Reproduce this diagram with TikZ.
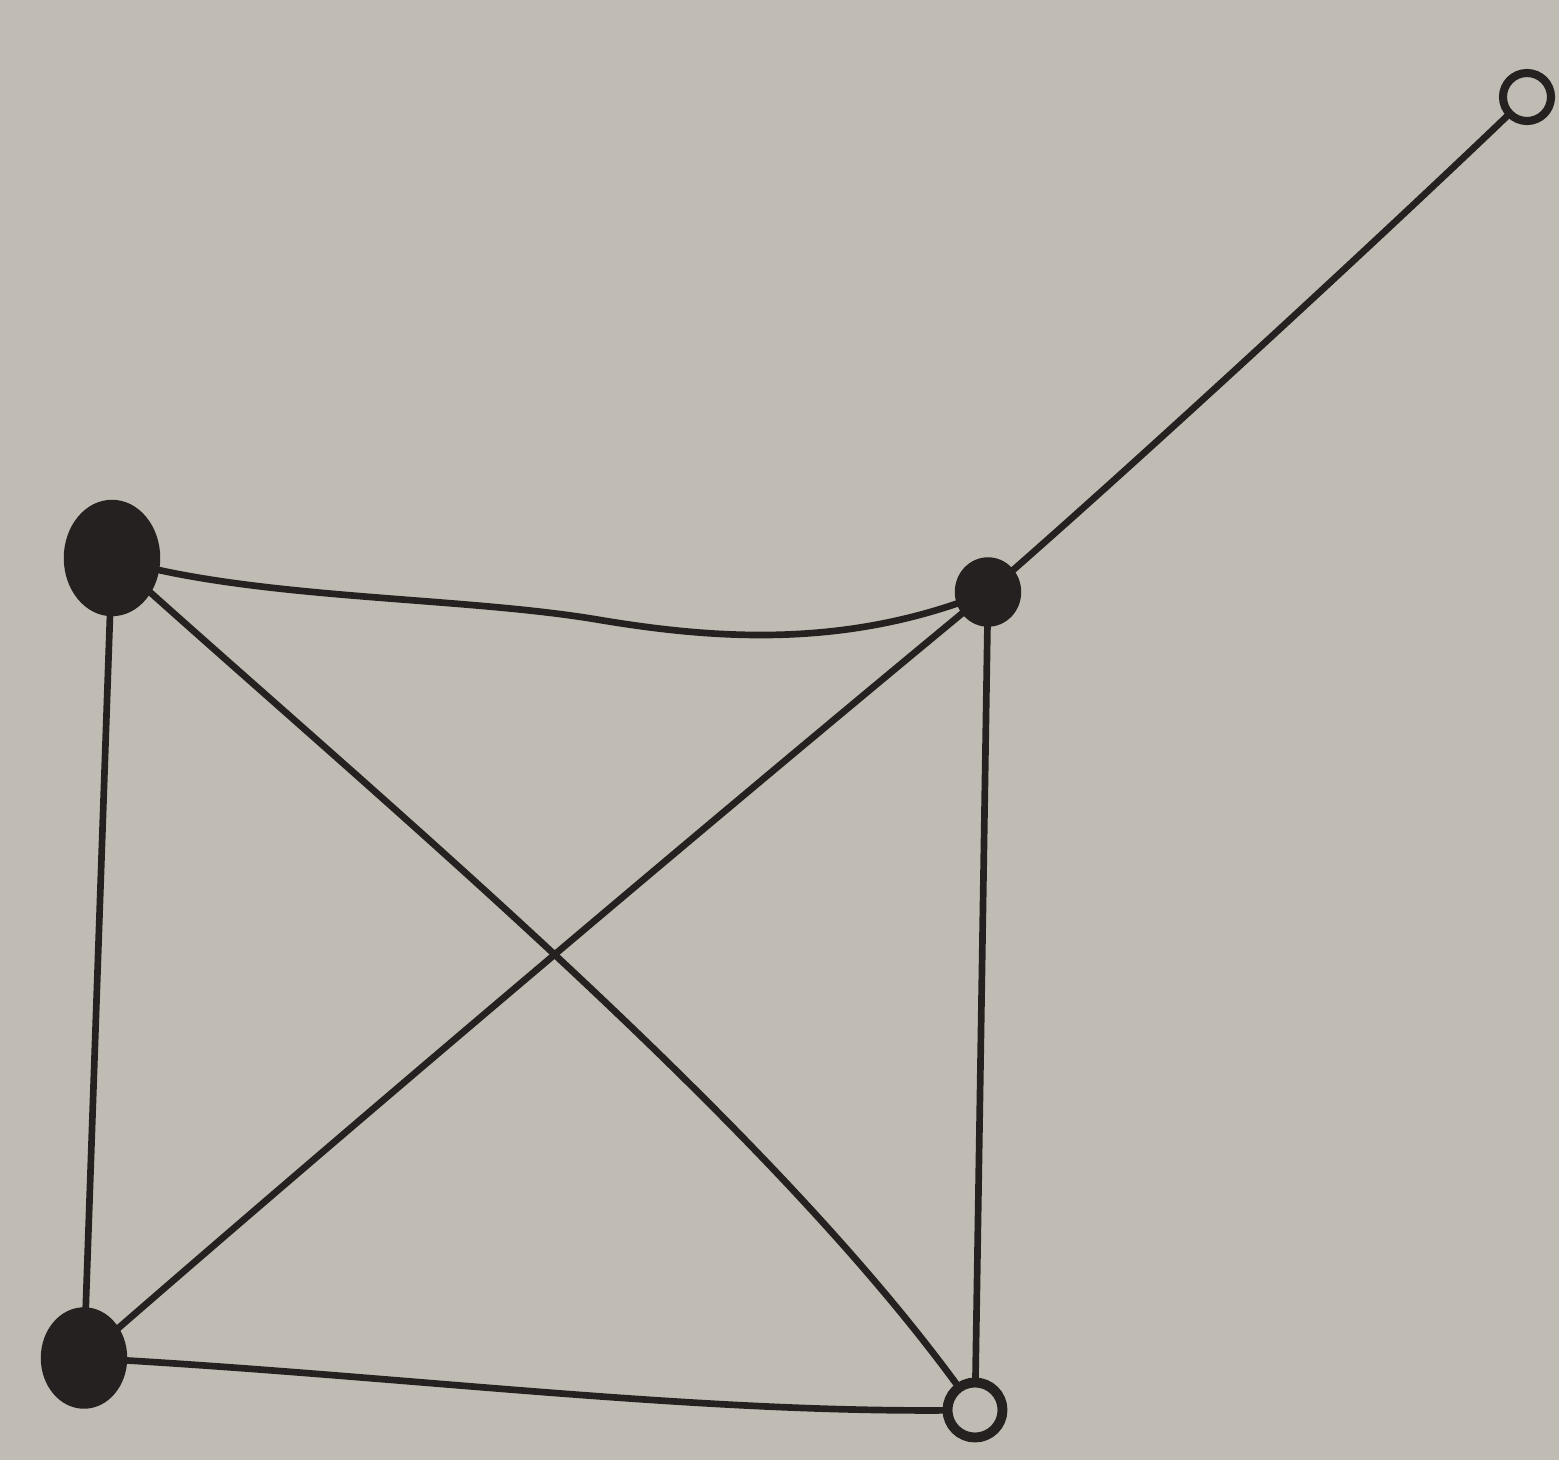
\documentclass[tikz,border=0pt]{standalone}
\usetikzlibrary{shapes.geometric}
\begin{document}
\begin{tikzpicture}[x=0.01cm,y=-0.01cm,
  ink/.style={draw=inkc,line width=1.9pt,line cap=round},
  bigdot/.style={ellipse,fill=inkc,draw=inkc,inner sep=0pt},
  opendot/.style={circle,draw=inkc,inner sep=0pt,fill=paper}]
\definecolor{paper}{RGB}{192,188,179}
\definecolor{inkc}{RGB}{38,33,33}
\fill[paper] (0,0) rectangle (1559,1460);
\useasboundingbox (0,0) rectangle (1559,1460);
\coordinate (a) at (112,558);
\coordinate (b) at (988,592);
\coordinate (c) at (84,1358);
\coordinate (d) at (975,1410);
\coordinate (e) at (1527,97);
% edges
\draw[ink] (a) .. controls (250,600) and (460,596) .. (600,620)
              .. controls (720,640) and (850,648) .. (b);
\draw[ink] (a) -- (c);
\draw[ink] (a) .. controls (380,800) and (780,1130) .. (d);
\draw[ink] (b) .. controls (760,780) and (380,1100) .. (c);
\draw[ink] (b) -- (d);
\draw[ink] (c) .. controls (400,1375) and (700,1415) .. (d);
\draw[ink] (b) .. controls (1140,460) and (1410,210) .. (e);
% vertices
\node[bigdot,minimum width=0.95cm,minimum height=1.15cm] (A) at (a) {};
\node[bigdot,minimum width=0.65cm,minimum height=0.68cm] (B) at (b) {};
\node[bigdot,minimum width=0.85cm,minimum height=1.0cm] (C) at (c) {};
\node[opendot,line width=2.8pt,minimum size=0.55cm] (D) at (d) {};
\node[opendot,line width=2.3pt,minimum size=0.48cm] (E) at (e) {};
\end{tikzpicture}
\end{document}
